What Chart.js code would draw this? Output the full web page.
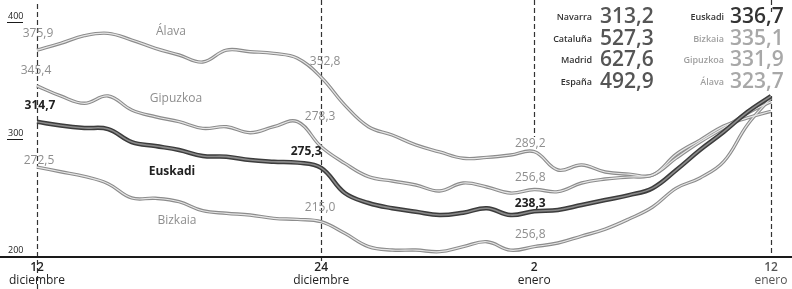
<!DOCTYPE html>
<html>
<head>
<meta charset="utf-8">
<script src="https://cdn.jsdelivr.net/npm/chart.js@4"></script>
<style>
  body{margin:0;background:#fff;}
  #caja{width:792px;height:289px;position:relative;}
</style>
</head>
<body>
<div id="caja"><canvas id="grafico"></canvas></div>
<script>

// días (12 dic - 12 ene)
const dias = ['12 dic','13 dic','14 dic','15 dic','16 dic','17 dic','18 dic','19 dic','20 dic','21 dic',
  '22 dic','23 dic','24 dic','25 dic','26 dic','27 dic','28 dic','29 dic','30 dic','31 dic',
  '1 ene','2 ene','3 ene','4 ene','5 ene','6 ene','7 ene','8 ene','9 ene','10 ene','11 ene','12 ene'];

const alava = [375.9,381.8,388.3,390.3,384.6,377.5,371.8,365.8,376.0,374.6,373.2,369.0,352.8,
  329.0,310.5,303.4,294.9,289.0,283.5,284.3,286.3,289.2,273.5,277.8,271.8,270.0,269.2,287.0,
  299.0,311.0,318.0,323.7];

const gipuzkoa = [345.4,336.8,330.5,336.8,324.8,319.0,314.8,309.1,310.5,305.4,310.5,314.8,293.4,
  279.2,267.8,264.1,260.7,255.6,262.4,259.0,253.8,256.8,255.0,262.4,265.8,267.5,269.2,283.8,
  297.4,309.4,322.0,331.9];

const euskadi = [314.7,311.5,309.4,308.5,297.4,294.0,290.6,285.5,284.9,282.0,280.6,279.8,275.3,
  253.8,245.3,240.8,237.9,235.0,237.0,240.8,235.0,238.3,239.3,243.6,247.9,252.0,258.0,273.5,
  290.6,306.0,323.0,336.7];

const bizkaia = [276.0,272.0,268.0,261.8,249.6,249.3,246.4,238.7,236.5,235.0,232.2,231.3,229.3,
  219.4,208.0,205.1,205.1,203.7,208.0,212.2,205.0,208.0,211.1,217.0,223.0,231.6,241.9,258.0,
  266.7,280.6,312.0,335.1];

// ejes
const ticksY = [400, 300, 200];
const ticksXDias = ['12 dic','24 dic','2 ene','12 ene'];
const ticksXNum = ['12','24','2','12'];
const ticksXMes = ['diciembre','diciembre','enero','enero'];

// cuadro superior
const regiones = ['Navarra','Cataluña','Madrid','España'];
const valoresRegiones = ['313,2','527,3','627,6','492,9'];
const territorios = ['Euskadi','Bizkaia','Gipuzkoa','Álava'];

const series = {alava: alava, gipuzkoa: gipuzkoa, euskadi: euskadi, bizkaia: bizkaia};
const finales = [euskadi, bizkaia, gipuzkoa, alava].map(s => s[s.length - 1].toFixed(1).replace('.', ','));

// textos sobre las líneas
const notas = [
  {serie:'alava', dia:'12 dic', texto:'375,9', dx:1, dy:-17},
  {serie:'gipuzkoa', dia:'12 dic', texto:'345,4', dx:-1, dy:-15},
  {serie:'euskadi', dia:'12 dic', texto:'314,7', dx:3, dy:-16, negrita:true},
  {serie:'bizkaia', dia:'12 dic', texto:'272,5', dx:2, dy:-7},
  {serie:'alava', dia:'24 dic', texto:'352,8', dx:4, dy:-16},
  {serie:'gipuzkoa', dia:'24 dic', texto:'278,3', dx:-1, dy:-30},
  {serie:'euskadi', dia:'24 dic', texto:'275,3', dx:-15, dy:-16, negrita:true},
  {serie:'bizkaia', dia:'24 dic', texto:'215,0', dx:-1, dy:-14},
  {serie:'alava', dia:'2 ene', texto:'289,2', dx:-4, dy:-8},
  {serie:'gipuzkoa', dia:'2 ene', texto:'256,8', dx:-4, dy:-12},
  {serie:'euskadi', dia:'2 ene', texto:'238,3', dx:-4, dy:-8, negrita:true},
  {serie:'bizkaia', dia:'2 ene', texto:'256,8', dx:-4, dy:-12}
];

const nombres = [
  {texto:'Álava', x:171, y:32},
  {texto:'Gipuzkoa', x:176, y:99},
  {texto:'Euskadi', x:172, y:172, negrita:true},
  {texto:'Bizkaia', x:177, y:221}
];

const GRIS_TXT = '#8e8e8e';
const FUENTE = '"Open Sans", "Noto Sans", sans-serif';

function linea(datos, color, ancho){
  return {
    data: datos,
    borderColor: color,
    borderWidth: ancho,
    pointRadius: 0,
    tension: 0.4,
    fill: false
  };
}

const extras = {
  id: 'extras',
  beforeDatasetsDraw(chart){
    const ctx = chart.ctx;
    const x = chart.scales.x;
    const area = chart.chartArea;
    ctx.save();
    ctx.strokeStyle = '#333';
    ctx.lineWidth = 1.2;
    ctx.setLineDash([5, 3]);
    const tramos = [[4, 289], [0, 262], [0, 137], [0, 12], [96, area.bottom]];
    const dondes = ['12 dic', '24 dic', '2 ene', '12 ene', '12 ene'];
    dondes.forEach((d, i) => {
      const px = Math.round(x.getPixelForValue(dias.indexOf(d))) + 0.5;
      ctx.beginPath();
      ctx.moveTo(px, tramos[i][0]);
      ctx.lineTo(px, tramos[i][1]);
      ctx.stroke();
    });
    ctx.restore();
  },
  afterDatasetsDraw(chart){
    const ctx = chart.ctx;
    const x = chart.scales.x;
    const y = chart.scales.y;
    const area = chart.chartArea;
    ctx.save();

    // línea base
    ctx.strokeStyle = '#1a1a1a';
    ctx.lineWidth = 2;
    ctx.beginPath();
    ctx.moveTo(0, area.bottom + 1);
    ctx.lineTo(chart.width, area.bottom + 1);
    ctx.stroke();

    // eje y
    ctx.font = '9px ' + FUENTE;
    ctx.fillStyle = '#222';
    ctx.textAlign = 'left';
    ctx.textBaseline = 'alphabetic';
    ctx.lineWidth = 1;
    ticksY.forEach(v => {
      const py = y.getPixelForValue(v);
      ctx.fillText(String(v), 8, py - 3);
      if (v !== 200) {
        ctx.beginPath();
        ctx.moveTo(7, Math.round(py) + 0.5);
        ctx.lineTo(23, Math.round(py) + 0.5);
        ctx.stroke();
      }
    });

    // eje x
    ctx.textAlign = 'center';
    ctx.textBaseline = 'middle';
    ticksXDias.forEach((d, i) => {
      const px = x.getPixelForValue(dias.indexOf(d));
      ctx.fillStyle = i === 3 ? '#555' : '#222';
      ctx.font = '600 12px ' + FUENTE;
      ctx.fillText(ticksXNum[i], px, 268);
      ctx.font = '12px ' + FUENTE;
      ctx.fillText(ticksXMes[i], px, 281);
    });

    // nombres de las series
    nombres.forEach(n => {
      ctx.font = (n.negrita ? '700 ' : '') + '12px ' + FUENTE;
      ctx.fillStyle = n.negrita ? '#222' : GRIS_TXT;
      ctx.fillText(n.texto, n.x, n.y);
    });

    // valores marcados
    notas.forEach(n => {
      const i = dias.indexOf(n.dia);
      const px = x.getPixelForValue(i);
      const py = y.getPixelForValue(series[n.serie][i]);
      ctx.font = (n.negrita ? '700 ' : '') + '12px ' + FUENTE;
      ctx.fillStyle = n.negrita ? '#222' : GRIS_TXT;
      ctx.fillText(n.texto, px + n.dx, py + n.dy);
    });

    // cuadro de datos
    const filas = [17, 39, 60, 82];
    ctx.textBaseline = 'middle';
    regiones.forEach((r, i) => {
      ctx.textAlign = 'right';
      ctx.font = '600 9px ' + FUENTE;
      ctx.fillStyle = '#333';
      ctx.fillText(r, 592, filas[i]);
      ctx.textAlign = 'left';
      ctx.font = '600 21px ' + FUENTE;
      ctx.fillStyle = '#555';
      ctx.fillText(valoresRegiones[i], 600, filas[i]);
    });
    territorios.forEach((t, i) => {
      const fuerte = i === 0;
      ctx.textAlign = 'right';
      ctx.font = '600 9px ' + FUENTE;
      ctx.fillStyle = fuerte ? '#333' : '#a0a0a0';
      ctx.fillText(t, 724, filas[i]);
      ctx.textAlign = 'left';
      ctx.font = '600 21px ' + FUENTE;
      ctx.fillStyle = fuerte ? '#333' : '#a8a8a8';
      ctx.fillText(finales[i], 730, filas[i]);
    });

    ctx.restore();
  }
};

new Chart(document.getElementById('grafico'), {
  type: 'line',
  data: {
    labels: dias,
    datasets: [
      linea(euskadi, '#8a8a8a', 1.6),
      linea(euskadi, '#3c3c3c', 4.5),
      linea(alava, '#e6e6e6', 1.2),
      linea(gipuzkoa, '#e6e6e6', 1.2),
      linea(bizkaia, '#e6e6e6', 1.2),
      linea(alava, '#8c8c8c', 3.4),
      linea(gipuzkoa, '#8c8c8c', 3.4),
      linea(bizkaia, '#8c8c8c', 3.4)
    ]
  },
  options: {
    responsive: true,
    maintainAspectRatio: false,
    animation: false,
    layout: {padding: {left: 37, right: 21, top: 22, bottom: 33}},
    scales: {
      x: {display: false},
      y: {display: false, min: 200, max: 400}
    },
    plugins: {
      legend: {display: false},
      tooltip: {enabled: false}
    }
  },
  plugins: [extras]
});
</script>
</body>
</html>
